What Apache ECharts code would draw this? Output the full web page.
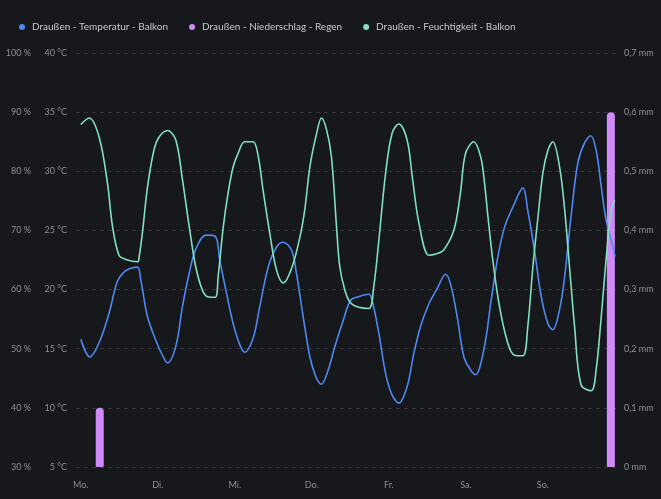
<!DOCTYPE html>
<html>
<head>
<meta charset="utf-8">
<style>
html,body{margin:0;padding:0;background:#17181c;}
#chart{width:661px;height:499px;}
</style>
<script src="https://cdn.jsdelivr.net/npm/echarts@6/dist/echarts.min.js"></script>
</head>
<body>
<div id="chart"></div>
<script>
// Tick labels
const dayLabels = ['Mo.', 'Di.', 'Mi.', 'Do.', 'Fr.', 'Sa.', 'So.'];
const dayTicks = [0, 24, 48, 72, 96, 120, 144];

// Series names
const seriesNames = ['Draußen - Temperatur - Balkon', 'Draußen - Niederschlag - Regen', 'Draußen - Feuchtigkeit - Balkon'];

// Temperature (°C), hours since Monday 00:00
const tempHours = [0, 2.8, 5.7, 8.8, 11.4, 13.5, 15.6, 17.7, 18.7, 20.8, 23.4, 25.7, 27.0, 29.6, 31.7, 33.8, 35.8, 39.0, 41.9, 43.3, 45.4, 47.5, 49.6, 51.1, 53.7, 55.8, 58.4, 61.0, 63.1, 65.7, 67.2, 69.3, 71.4, 73.3, 75.0, 77.1, 79.2, 81.8, 84.1, 86.6, 89.8, 90.8, 92.9, 95.0, 97.0, 99.1, 101.7, 103.8, 105.9, 108.5, 111.1, 113.7, 115.2, 117.3, 119.4, 121.5, 123.0, 125.6, 127.9, 130.0, 132.1, 134.7, 137.8, 139.3, 141.4, 143.5, 145.6, 147.1, 149.2, 150.8, 152.8, 154.9, 157.0, 158.9, 160.6, 162.2, 163.7, 165.3, 166.5];
const tempValues = [15.8, 14.3, 15.5, 18.0, 20.7, 21.5, 21.8, 21.9, 20.8, 17.7, 15.7, 14.3, 13.8, 15.2, 18.6, 21.4, 23.4, 24.6, 24.5, 22.5, 19.7, 17.1, 15.3, 14.7, 15.9, 18.6, 21.9, 23.6, 24.0, 23.3, 21.4, 17.7, 14.3, 12.6, 12.0, 13.2, 15.2, 17.4, 19.1, 19.4, 19.6, 19.1, 16.3, 12.9, 11.1, 10.4, 11.8, 14.6, 16.9, 18.8, 20.1, 21.3, 20.5, 17.7, 14.3, 13.2, 12.8, 14.9, 19.1, 22.8, 25.3, 27.0, 28.6, 26.7, 23.3, 19.4, 17.1, 16.6, 18.3, 21.1, 26.2, 30.7, 32.4, 33.0, 31.8, 28.7, 25.9, 24.2, 22.8];

// Precipitation (mm)
const rainHours = [5.9, 165.2];
const rainValues = [0.1, 0.6];

// Humidity (%)
const humHours = [0, 2.6, 5.7, 8.3, 9.9, 11.9, 14.0, 17.7, 18.2, 19.2, 20.8, 22.8, 24.4, 27.0, 29.6, 31.7, 33.8, 35.8, 37.9, 39.5, 41.9, 42.8, 44.4, 45.9, 47.5, 49.0, 51.1, 53.7, 55.3, 56.8, 58.9, 61.0, 63.1, 65.7, 68.3, 69.8, 71.4, 73.5, 75.0, 76.6, 78.1, 79.7, 80.7, 82.3, 84.0, 86.6, 89.8, 91.3, 92.9, 95.0, 97.0, 99.1, 101.7, 103.3, 105.4, 108.5, 110.6, 113.1, 116.3, 118.3, 119.9, 122.5, 124.6, 125.6, 126.9, 128.4, 130.5, 133.1, 135.2, 137.8, 139.3, 140.9, 142.4, 144.0, 145.6, 147.1, 149.2, 150.8, 152.3, 153.9, 155.9, 159.1, 160.6, 162.2, 163.7, 165.3, 166.4];
const humValues = [87.9, 89.0, 85.8, 78.0, 70.6, 65.8, 65.1, 64.7, 65.6, 69.6, 77.4, 83.6, 85.8, 86.9, 85.3, 78.5, 70.6, 63.9, 59.9, 58.8, 58.7, 62.2, 70.6, 76.3, 80.8, 83.0, 85.0, 85.0, 82.5, 76.8, 69.5, 63.3, 61.1, 63.6, 68.9, 73.5, 80.8, 86.4, 89.0, 87.0, 82.5, 70.6, 63.9, 59.9, 57.8, 57.0, 56.8, 60.5, 68.4, 79.7, 86.4, 88.0, 85.3, 79.1, 71.2, 65.8, 66.0, 66.7, 70.1, 76.3, 83.0, 85.0, 82.5, 79.1, 72.3, 65.0, 57.1, 50.9, 48.9, 48.8, 53.7, 63.9, 71.8, 79.7, 83.6, 85.0, 80.8, 73.5, 63.9, 53.7, 43.9, 42.9, 46.4, 55.4, 65.0, 73.5, 75.1];

const zip = (xs, ys) => xs.map((x, i) => [x, ys[i]]);

const FONT = 'Lato';
const labelColor = '#8e9097';
const gridColor = '#33353a';

const chart = echarts.init(document.getElementById('chart'), null, {renderer: 'canvas'});
chart.setOption({
  backgroundColor: '#17181c',
  animation: false,
  textStyle: {fontFamily: FONT},
  legend: {
    top: 17,
    left: 14,
    icon: 'circle',
    itemWidth: 6,
    itemHeight: 6,
    itemGap: 21,
    textStyle: {color: '#c6c8ce', fontSize: 10, fontFamily: FONT, padding: [0, 0, 0, 2]},
    data: seriesNames
  },
  grid: {left: 76, right: 45, top: 53, bottom: 32, containLabel: false},
  xAxis: {
    type: 'value',
    min: -1.5,
    max: 166.8,
    axisLine: {show: false},
    axisTick: {show: false},
    splitLine: {show: false},
    axisLabel: {
      customValues: dayTicks,
      color: labelColor,
      fontSize: 9,
      margin: 14,
      formatter: v => dayLabels[Math.round(v / 24)] || ''
    }
  },
  yAxis: [
    {
      type: 'value', position: 'left', min: 5, max: 40, interval: 5,
      axisLine: {show: false}, axisTick: {show: false},
      splitLine: {show: true, lineStyle: {color: gridColor, type: [4, 4], width: 1}},
      axisLabel: {color: labelColor, fontSize: 9, margin: 9, formatter: v => v + ' °C'}
    },
    {
      type: 'value', position: 'left', offset: 36, min: 30, max: 100, interval: 10,
      axisLine: {show: false}, axisTick: {show: false}, splitLine: {show: false},
      axisLabel: {color: labelColor, fontSize: 9, margin: 9, formatter: v => v + ' %'}
    },
    {
      type: 'value', position: 'right', min: 0, max: 0.7, interval: 0.1,
      axisLine: {show: false}, axisTick: {show: false}, splitLine: {show: false},
      axisLabel: {color: labelColor, fontSize: 9, margin: 8,
        formatter: v => (v === 0 ? '0' : v.toFixed(1).replace('.', ',')) + ' mm'}
    }
  ],
  series: [
    {
      name: seriesNames[0], type: 'line', yAxisIndex: 0, z: 3,
      data: zip(tempHours, tempValues),
      smooth: 0.35, showSymbol: false,
      itemStyle: {color: '#4f88f2'},
      lineStyle: {color: '#4f88f2', width: 1.6}
    },
    {
      name: seriesNames[1], type: 'bar', yAxisIndex: 2, z: 1,
      data: zip(rainHours, rainValues),
      barWidth: 8,
      itemStyle: {color: '#d089f6', borderRadius: [4, 4, 1, 1]}
    },
    {
      name: seriesNames[2], type: 'line', yAxisIndex: 1, z: 3,
      data: zip(humHours, humValues),
      smooth: 0.35, showSymbol: false,
      itemStyle: {color: '#80e0bf'},
      lineStyle: {color: '#80e0bf', width: 1.6}
    }
  ]
});
</script>
</body>
</html>
